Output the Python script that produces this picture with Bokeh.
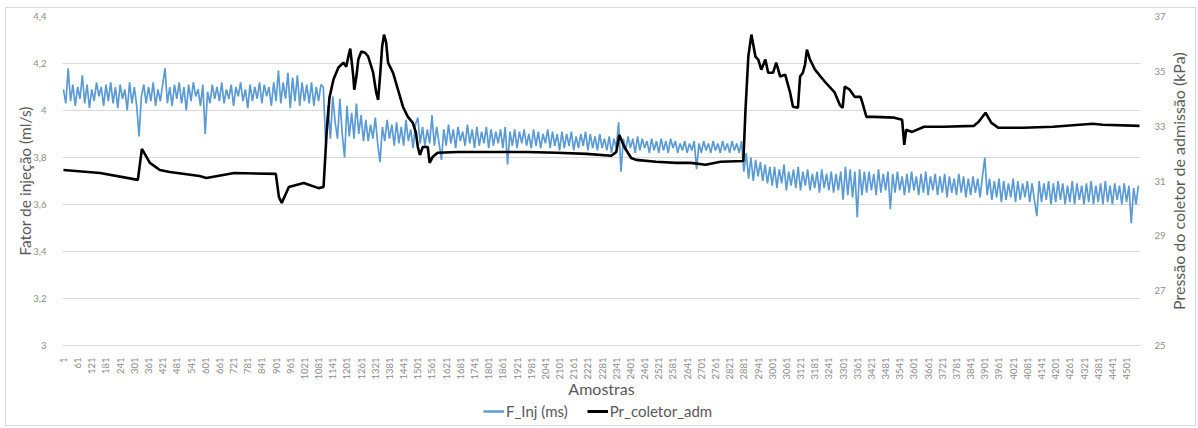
import math
from bokeh.plotting import figure
from bokeh.layouts import column, row
from bokeh.models import (Range1d, LinearAxis, FixedTicker, CustomJSTickFormatter,
                          Legend, LegendItem, Label)
from bokeh.embed import file_html
from bokeh.resources import INLINE

# ---------------- data ----------------
# F_Inj (ml/s), one reading every 10 samples starting at sample 1
f_inj = [
    4.09, 4.03, 4.18, 4.04, 4.11, 4.02, 4.10, 4.05, 4.15, 4.03,
    4.11, 4.01, 4.09, 4.04, 4.12, 4.06, 4.10, 4.02, 4.11, 4.04,
    4.12, 4.03, 4.10, 4.01, 4.11, 4.05, 4.09, 4.00, 4.12, 4.03,
    4.10, 4.02, 3.89, 4.06, 4.11, 4.03, 4.10, 4.04, 4.12, 4.02,
    4.09, 4.04, 4.11, 4.18, 4.03, 4.10, 4.02, 4.11, 4.05, 4.12,
    4.03, 4.10, 4.00, 4.11, 4.04, 4.12, 4.06, 4.09, 4.02, 4.11,
    3.90, 4.08, 4.03, 4.11, 4.05, 4.10, 4.04, 4.12, 4.03, 4.09,
    4.05, 4.11, 4.02, 4.10, 4.06, 4.12, 4.04, 4.09, 4.01, 4.11,
    4.04, 4.10, 4.05, 4.12, 4.03, 4.11, 4.06, 4.10, 4.02, 4.12,
    4.04, 4.17, 4.03, 4.12, 4.05, 4.16, 4.01, 4.14, 4.04, 4.15,
    4.02, 4.12, 4.04, 4.11, 4.03, 4.12, 4.02, 4.10, 4.04, 4.11,
    4.10, 3.86, 4.02, 3.88, 4.06, 3.95,
    3.88, 4.05, 3.90, 3.80, 4.02, 3.89, 3.99, 3.88, 4.03, 3.90, 3.98, 3.87,
    3.96, 3.87, 3.94, 3.88, 3.97, 3.86, 3.78, 3.93, 3.87, 3.96, 3.88, 3.94,
    3.85, 3.95, 3.86, 3.93, 3.85, 3.96, 3.87, 3.92, 3.84, 3.94, 3.97, 3.86,
    3.93, 3.85, 3.92, 3.86, 3.98, 3.85, 3.93, 3.86, 3.79, 3.92,
    3.85, 3.94, 3.86, 3.92, 3.84, 3.93, 3.87, 3.91, 3.85, 3.94,
    3.86, 3.92, 3.84, 3.93, 3.85, 3.91, 3.86, 3.93, 3.84, 3.92,
    3.85, 3.91, 3.86, 3.92, 3.84, 3.93, 3.77, 3.91, 3.85, 3.92,
    3.84, 3.91, 3.86, 3.92, 3.85, 3.90, 3.84, 3.92, 3.85, 3.91,
    3.84, 3.90, 3.86, 3.92, 3.84, 3.91, 3.85, 3.90, 3.83, 3.91,
    3.84, 3.90, 3.85, 3.91, 3.83, 3.89, 3.84, 3.90, 3.85, 3.91, 3.83, 3.90,
    3.84, 3.89, 3.83, 3.90, 3.84, 3.88, 3.83, 3.89, 3.82, 3.88,
    3.84, 3.95, 3.74, 3.88, 3.83, 3.89, 3.84, 3.88, 3.82, 3.89,
    3.83, 3.88, 3.84, 3.87, 3.82, 3.88, 3.83, 3.87, 3.82, 3.88,
    3.83, 3.87, 3.82, 3.88, 3.84, 3.87, 3.82, 3.86, 3.83, 3.87,
    3.82, 3.86, 3.83, 3.87, 3.75, 3.86, 3.82, 3.87, 3.83, 3.86,
    3.82, 3.87, 3.83, 3.86, 3.82, 3.87, 3.83, 3.86, 3.82, 3.87,
    3.83, 3.86, 3.82, 3.87,
    3.74, 3.82, 3.71, 3.80, 3.70, 3.79, 3.72, 3.78, 3.70, 3.77, 3.69, 3.76,
    3.68, 3.76, 3.67, 3.75, 3.69, 3.77, 3.66, 3.74, 3.68, 3.75,
    3.67, 3.76, 3.66, 3.74, 3.68, 3.75, 3.66, 3.73, 3.67, 3.74,
    3.65, 3.75, 3.67, 3.73, 3.66, 3.74, 3.65, 3.73, 3.66, 3.74,
    3.62, 3.76, 3.64, 3.75, 3.63, 3.74, 3.545, 3.75, 3.64, 3.74,
    3.65, 3.74, 3.66, 3.73, 3.64, 3.75, 3.65, 3.73, 3.66, 3.74,
    3.58, 3.73, 3.65, 3.74, 3.66, 3.72, 3.64, 3.73, 3.65, 3.74,
    3.66, 3.72, 3.64, 3.73, 3.65, 3.74, 3.64, 3.72, 3.66, 3.73,
    3.64, 3.72, 3.65, 3.73, 3.63, 3.72, 3.65, 3.71, 3.64, 3.73,
    3.65, 3.72, 3.63, 3.71, 3.64, 3.72, 3.65, 3.71, 3.63, 3.72,
    3.80, 3.64,
    3.71, 3.62, 3.70, 3.63, 3.71, 3.61, 3.70, 3.62, 3.69, 3.63,
    3.71, 3.61, 3.70, 3.62, 3.69, 3.63, 3.70, 3.61, 3.69, 3.62,
    3.55, 3.70, 3.61, 3.69, 3.62, 3.70, 3.60, 3.69, 3.61, 3.70,
    3.62, 3.69, 3.60, 3.68, 3.61, 3.70, 3.60, 3.69, 3.62, 3.68,
    3.60, 3.69, 3.61, 3.70, 3.60, 3.68, 3.61, 3.69, 3.60, 3.70,
    3.61, 3.68, 3.60, 3.69, 3.62, 3.68, 3.60, 3.69, 3.61, 3.68,
    3.52, 3.67, 3.60, 3.68,
]
f_inj_samples = list(range(1, 1 + 10 * len(f_inj), 10))

# Pr_coletor_adm (kPa) at selected samples
pr_samples = [
    1, 156, 316, 333, 367, 409, 451, 577, 606, 724, 900, 913, 925, 955, 1018,
    1081, 1102, 1115, 1127, 1144, 1165, 1186, 1198, 1207, 1215, 1228, 1232,
    1241, 1249, 1262, 1278, 1291, 1312, 1325, 1333, 1341, 1350, 1358, 1367,
    1375, 1396, 1417, 1438, 1459, 1480, 1493, 1501, 1510, 1522, 1543, 1551,
    1564, 1585, 1669, 1837, 1963, 2089, 2215, 2320, 2341, 2354, 2375, 2404,
    2425, 2509, 2594, 2656, 2719, 2782, 2879, 2888, 2900, 2913, 2930, 2942,
    2955, 2972, 2984, 3005, 3018, 3035, 3056, 3077, 3089, 3110, 3119, 3131,
    3140, 3148, 3161, 3182, 3224, 3266, 3287, 3299, 3308, 3329, 3350, 3375,
    3383, 3400, 3434, 3518, 3551, 3560, 3568, 3593, 3644, 3728, 3854, 3875,
    3904, 3929, 3959, 4064, 4190, 4358, 4400, 4556,
]
pr = [
    31.40, 31.29, 31.04, 32.17, 31.66, 31.40, 31.33, 31.18, 31.11, 31.29,
    31.26, 30.42, 30.20, 30.78, 30.93, 30.74, 30.78, 32.76, 34.04, 34.70,
    35.14, 35.32, 35.17, 35.54, 35.83, 34.81, 34.33, 34.81, 35.43, 35.72,
    35.68, 35.54, 34.95, 34.22, 33.96, 34.81, 35.90, 36.34, 36.05, 35.32,
    34.95, 34.33, 33.71, 33.34, 33.12, 32.76, 32.24, 31.95, 32.24, 32.24,
    31.66, 31.88, 32.03, 32.06, 32.06, 32.06, 32.03, 31.99, 31.92, 32.06,
    32.68, 32.24, 31.84, 31.77, 31.70, 31.66, 31.66, 31.59, 31.70, 31.73,
    33.60, 35.54, 36.34, 35.54, 35.43, 35.06, 35.43, 34.95, 34.95, 35.32,
    34.81, 34.88, 34.22, 33.71, 33.67, 34.81, 34.95, 35.25, 35.79, 35.43,
    35.06, 34.62, 34.22, 33.78, 33.67, 34.44, 34.33, 34.07, 34.07, 33.85,
    33.34, 33.34, 33.31, 33.23, 32.32, 32.87, 32.79, 32.98, 32.98, 33.01,
    33.16, 33.49, 33.12, 32.94, 32.94, 32.98, 33.09, 33.05, 33.01,
]

x_ticks = list(range(1, 4502, 60))
left_ticks = [3.0, 3.2, 3.4, 3.6, 3.8, 4.0, 4.2, 4.4]
right_ticks = [25, 27, 29, 31, 33, 35, 37]
series_names = ["F_Inj (ms)", "Pr_coletor_adm"]
x_title = "Amostras"
left_title = "Fator de injeção (ml/s)"
right_title = "Pressão do coletor de admissão (kPa)"

# ---------------- styling ----------------
FONT = "Lato"
TICK_COLOR = "#8c8c8c"
TITLE_COLOR = "#595959"
GRID = "#d9d9d9"
BLUE = "#5b9bd5"
W_TOTAL = 1189
W_RIGHT = 27
H_MAIN = 392

p = figure(width=W_TOTAL - W_RIGHT, height=H_MAIN, output_backend="svg",
           toolbar_location=None,
           x_range=Range1d(-3, 4560), y_range=Range1d(3, 4.4),
           min_border_left=56, min_border_right=20, min_border_top=8,
           min_border_bottom=55, outline_line_color=None,
           background_fill_color="white", border_fill_color="white")
p.extra_y_ranges = {"pr": Range1d(25, 37)}

p.xgrid.grid_line_color = None
p.ygrid.grid_line_color = GRID
p.ygrid.ticker = FixedTicker(ticks=left_ticks)

xa = p.xaxis[0]
xa.ticker = FixedTicker(ticks=x_ticks)
xa.major_label_orientation = math.pi / 2
xa.axis_label = x_title

ya = p.yaxis[0]
ya.ticker = FixedTicker(ticks=left_ticks)
ya.formatter = CustomJSTickFormatter(
    code="return tick.toFixed(1).replace('.0', '').replace('.', ',');")
ya.axis_label = left_title

ra = LinearAxis(y_range_name="pr", ticker=FixedTicker(ticks=right_ticks))
p.add_layout(ra, "right")

for ax in (xa, ya, ra):
    ax.axis_line_color = None
    ax.major_tick_line_color = None
    ax.minor_tick_line_color = None
    ax.major_label_text_font = FONT
    ax.major_label_text_font_size = "9.5px"
    ax.major_label_text_color = TICK_COLOR
    ax.axis_label_text_font = FONT
    ax.axis_label_text_font_size = "15.5px"
    ax.axis_label_text_font_style = "normal"
    ax.axis_label_text_color = TITLE_COLOR
xa.axis_line_color = GRID
xa.major_label_standoff = 6
xa.axis_label_standoff = -4
xa.axis_label_text_font_size = "16px"
ya.major_label_standoff = 10
ya.axis_label_standoff = -4
ra.major_label_standoff = 8

r_inj = p.line(f_inj_samples, f_inj, line_color=BLUE, line_width=1.7)
r_pr = p.line(pr_samples, pr, line_color="black", line_width=2.6, y_range_name="pr")

# right-hand axis title (reads bottom to top)
rf = figure(width=W_RIGHT, height=H_MAIN, output_backend="svg", toolbar_location=None,
            x_range=Range1d(0, 1), y_range=Range1d(0, 1),
            x_axis_type=None, y_axis_type=None, min_border_left=0,
            min_border_right=0, min_border_top=8, min_border_bottom=55,
            outline_line_color=None, border_fill_color="white")
rf.xgrid.grid_line_color = None
rf.ygrid.grid_line_color = None
rf.add_layout(Label(x=0.36, y=0.5, text=right_title, angle=math.pi / 2,
                    text_align="center", text_baseline="middle",
                    text_font=FONT, text_font_size="16px",
                    text_color=TITLE_COLOR))

# legend strip below the chart
lf = figure(width=W_TOTAL, height=25, output_backend="svg", toolbar_location=None,
            x_range=Range1d(-2, -1), y_range=Range1d(-2, -1),
            x_axis_type=None, y_axis_type=None, min_border=0,
            outline_line_color=None, border_fill_color="white")
lf.xgrid.grid_line_color = None
lf.ygrid.grid_line_color = None
l_inj = lf.line(f_inj_samples, f_inj, line_color=BLUE, line_width=2.5)
l_pr = lf.line(pr_samples, pr, line_color="black", line_width=3)
legend = Legend(items=[LegendItem(label=series_names[0], renderers=[l_inj]),
                       LegendItem(label=series_names[1], renderers=[l_pr])],
                orientation="horizontal", location=(477, 4),
                label_text_font=FONT, label_text_font_size="15px",
                label_text_color=TITLE_COLOR, border_line_color=None,
                background_fill_alpha=0, glyph_width=21, spacing=19,
                padding=0, margin=0, label_standoff=2)
lf.add_layout(legend, "center")

layout = column(row(p, rf, spacing=0), lf, spacing=0)
layout.styles = {"border": "1px solid #d9d9d9", "margin-left": "5px", "margin-top": "7px"}

open("out.html", "w").write(file_html(layout, INLINE))
